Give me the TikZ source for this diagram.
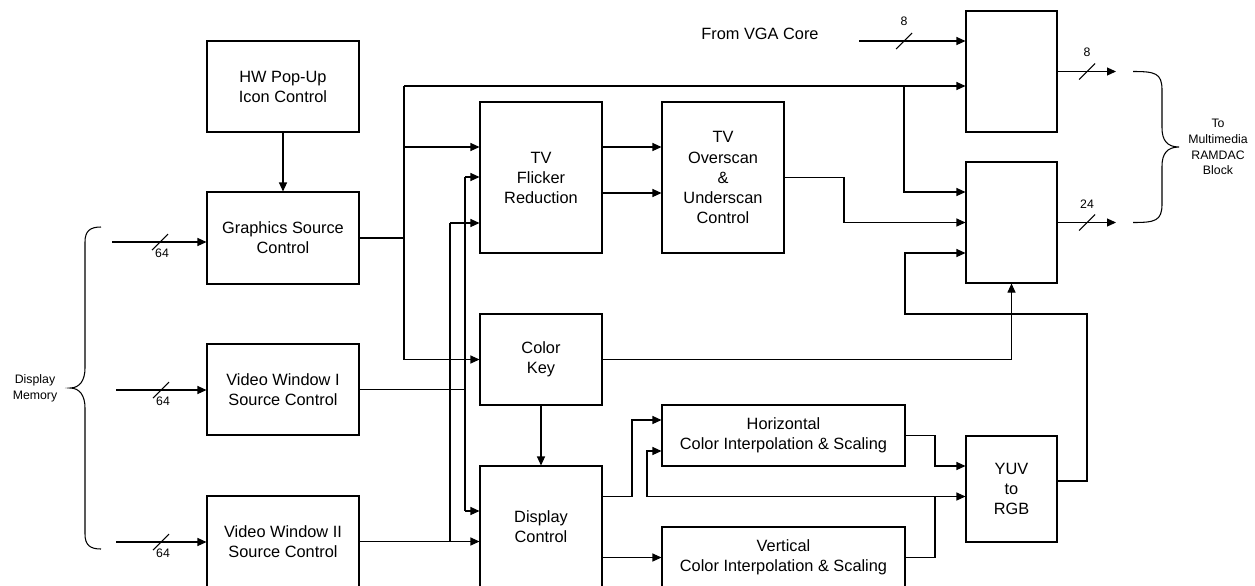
\documentclass[tikz,border=0pt]{standalone}
\usepackage{fontspec}
\setmainfont{Liberation Sans}
\usetikzlibrary{arrows.meta}
\newcommand{\bigtxt}{\fontsize{9.3}{11.4}\selectfont}
\newcommand{\smalltxt}{\fontsize{7}{9}\selectfont}

\begin{document}
\begin{tikzpicture}[
    x=0.2mm, y=-0.2mm, line width=0.6pt,
    every node/.style={font=\bigtxt},
    blk/.style 2 args={draw, align=center, inner sep=1pt, minimum width=#1*0.2mm, minimum height=#2*0.2mm},
    sig/.style={-{Triangle[length=1.8mm,width=1.6mm]}},
    lbl/.style={font=\smalltxt, inner sep=0pt, align=center}
]
    \useasboundingbox (0,0) rectangle (1255,585);
    \clip (0,0) rectangle (1255,585);

    % source blocks
    \node[blk={152}{91}] (pop) at (283,86.5) {HW Pop-Up\\Icon Control};
    \node[blk={152}{92}] (gfx) at (283,238) {Graphics Source\\Control};
    \node[blk={152}{91}] (vw1) at (283,389.5) {Video Window I\\Source Control};
    \node[blk={152}{91}] (vw2) at (283,541.5) {Video Window II\\Source Control};

    % processing blocks
    \node[blk={122}{151}] (flick) at (541,177.5) {TV\\Flicker\\Reduction};
    \node[blk={122}{151}] (over) at (723,177.5) {TV\\Overscan\\\&\\Underscan\\Control};
    \node[blk={122}{91}] (ckey) at (541,359.5) {Color\\Key};
    \node[blk={122}{122}] (disp) at (541,527) {Display\\Control};
    \node[blk={243}{61}] (horiz) at (783.5,435.5) {Horizontal\\Color Interpolation \& Scaling};
    \node[blk={243}{61}] (vert) at (783.5,557.5) {Vertical\\Color Interpolation \& Scaling};
    \node[blk={91}{106}] (yuv) at (1011.5,489) {YUV\\to\\RGB};

    % output multiplexers
    \node[blk={91}{121}] (mux1) at (1011.5,71.5) {};
    \node[blk={91}{121}] (mux2) at (1011.5,222.5) {};

    % side texts
    \node (vgatxt) at (760,34) {From VGA Core};
    \node[lbl] (dmem) at (35,388) {Display\\Memory};
    \node[lbl] (ramdac) at (1218,147) {To\\Multimedia\\RAMDAC\\Block};

    % memory inputs
    \coordinate (m1) at (112,242);
    \coordinate (m2) at (116,390);
    \coordinate (m3) at (116,542);
    \draw[sig] (m1) -- (m1 -| gfx.west);
    \draw[sig] (m2) -- (m2 -| vw1.west);
    \draw[sig] (m3) -- (m3 -| vw2.west);
    \draw (101,227) .. controls (90,227) and (85,231) .. (85,242) -- (85,368)
        .. controls (85,380) and (80,388) .. (70,388)
        .. controls (80,388) and (85,396) .. (85,408) -- (85,534)
        .. controls (85,545) and (90,549) .. (101,549);

    \draw[sig] (pop) -- (gfx);

    % graphics source bus
    \coordinate (gb) at (404,86);
    \coordinate (gf) at (404,147);
    \coordinate (vb) at (904,86);
    \coordinate (vb2) at (904,192);
    \draw (gfx.east) -- (gfx.east -| gb);
    \draw (gb) -- (gb |- ckey.west);
    \draw[sig] (gb) -- (gb -| mux1.west);
    \draw[sig] (gf) -- (gf -| flick.west);
    \draw[sig] (gb |- ckey.west) -- (ckey.west);
    \draw[sig] (vb) -- (vb2) -- (vb2 -| mux2.west);

    % video window I
    \coordinate (v1a) at (465,177);
    \coordinate (v1b) at (465,511);
    \draw (vw1.east) -- (vw1.east -| v1a);
    \draw (v1a) -- (v1b);
    \draw[sig] (v1a) -- (v1a -| flick.west);
    \draw[sig] (v1b) -- (v1b -| disp.west);

    % video window II
    \coordinate (v2a) at (450,223);
    \draw[sig] (vw2.east) -- (vw2.east -| disp.west);
    \draw (vw2.east -| v2a) -- (v2a);
    \draw[sig] (v2a) -- (v2a -| flick.west);

    % flicker -> overscan -> mux
    \coordinate (f2) at (602,193);
    \coordinate (o1) at (844,222.5);
    \draw[sig] (flick.east |- gf) -- (over.west |- gf);
    \draw[sig] (f2) -- (f2 -| over.west);
    \draw[sig] (over.east) -| (o1) -- (mux2.west);

    % color key
    \draw[sig] (ckey.east) -| (mux2.south);
    \draw[sig] (ckey) -- (disp);

    % display control -> scalers
    \coordinate (d1) at (632,496.5);
    \coordinate (h1) at (632,420);
    \draw[sig] (disp.east |- d1) -| (h1) -- (h1 -| horiz.west);
    \draw[sig] (disp.east |- vert.west) -- (vert.west);

    % scalers -> yuv
    \coordinate (hy) at (935,466);
    \coordinate (vy) at (935,496.5);
    \coordinate (fb) at (647,496.5);
    \coordinate (fb2) at (647,451);
    \draw[sig] (horiz.east) -| (hy) -- (hy -| yuv.west);
    \draw (vert.east) -| (vy);
    \draw[sig] (vy) -- (vy -| yuv.west);
    \draw[sig] (vy) -- (fb) -- (fb2) -- (fb2 -| horiz.west);

    % yuv loop back to mux
    \coordinate (y1) at (1087,481);
    \coordinate (y2) at (1087,314);
    \coordinate (y3) at (905,314);
    \coordinate (y4) at (905,253);
    \draw[sig] (yuv.east |- y1) -- (y1) -- (y2) -- (y3) -- (y4) -- (y4 -| mux2.west);

    % vga core and outputs
    \coordinate (vga) at (859,41);
    \coordinate (r1) at (1116,71.5);
    \coordinate (r2) at (1116,222.5);
    \draw[sig] (vga) -- (vga -| mux1.west);
    \draw[sig] (mux1.east) -- (r1);
    \draw[sig] (mux2.east) -- (r2);
    \draw (1133,71.5) .. controls (1155,71.5) and (1162,73) .. (1162,90) -- (1162,128)
        .. controls (1162,140) and (1167,147) .. (1179,147)
        .. controls (1167,147) and (1162,154) .. (1162,166) -- (1162,204)
        .. controls (1162,221) and (1155,222.5) .. (1133,222.5);

    % bus widths
    \foreach \x/\y in {160/242,161/390,161/542,904/41,1087/71.5,1087/222.5}
        \draw (\x-8,\y+8) -- (\x+8,\y-8);
    \node[lbl] (w1) at (162,253) {64};
    \node[lbl] (w2) at (163,401) {64};
    \node[lbl] (w3) at (163,553) {64};
    \node[lbl] (w4) at (904,21) {8};
    \node[lbl] (w5) at (1087,52) {8};
    \node[lbl] (w6) at (1087,204) {24};
\end{tikzpicture}
\end{document}
